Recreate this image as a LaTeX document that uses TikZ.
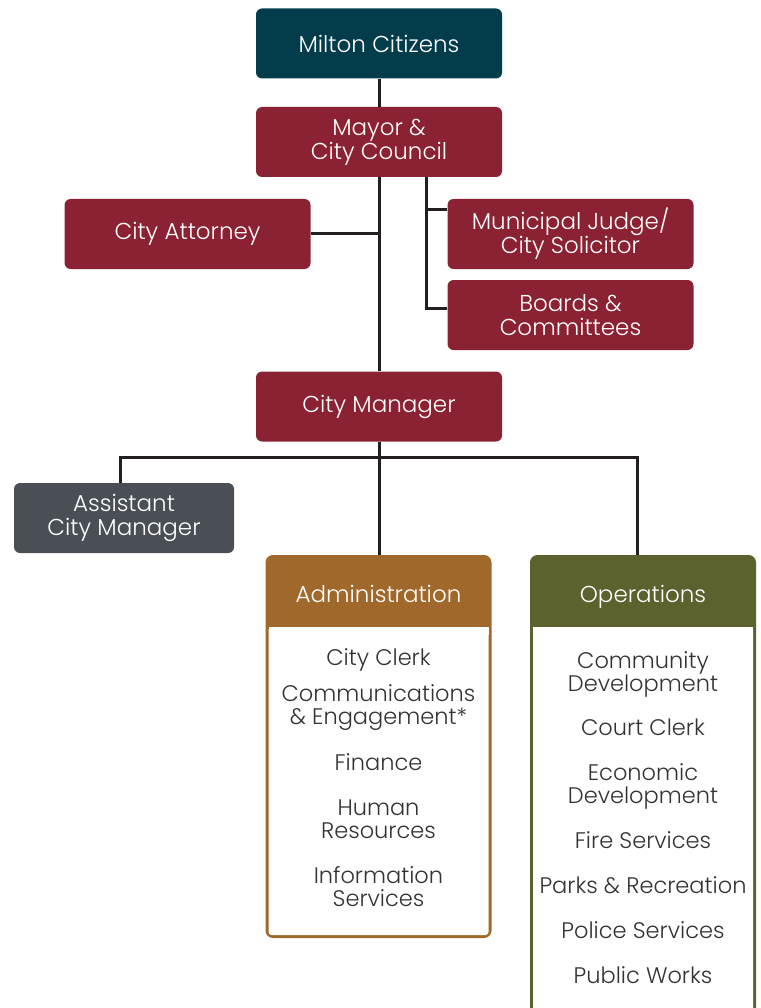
\documentclass[tikz,border=0pt]{standalone}
\usepackage{fontspec}
\setmainfont{Poppins Light}
\usetikzlibrary{positioning}
\definecolor{citteal}{HTML}{033D4C}
\definecolor{councilred}{HTML}{8B2233}
\definecolor{asstgray}{HTML}{4A4F55}
\definecolor{admbrown}{HTML}{A1682C}
\definecolor{opsolive}{HTML}{5C612D}
\definecolor{linkgray}{HTML}{231F20}
\definecolor{listgray}{HTML}{333333}

\begin{document}
\begin{tikzpicture}[
  x=1pt, y=-1pt,
  font=\fontsize{23}{24}\selectfont,
  box/.style   ={rounded corners=6pt, minimum width=246pt, minimum height=70pt,
                 align=center, text=white, inner sep=0pt},
  top/.style   ={box, fill=citteal},
  council/.style={box, fill=councilred},
  asst/.style  ={box, fill=asstgray, minimum width=220pt},
  dept/.style  ={rounded corners=6pt, line width=3pt, minimum width=223pt,
                 inner sep=0pt},
  head/.style  ={text=white, anchor=base},
  item/.style  ={text=listgray, align=center, inner sep=0pt,
                 font=\fontsize{22.5}{23}\selectfont},
  link/.style  ={draw=linkgray, line width=3pt},
]
\useasboundingbox (0,0) rectangle (760,1008);
\clip (0,0) rectangle (760,1008);

\node[top]     (cit)    at (379,43.5) {Milton Citizens};
\node[council] (mayor)  at (379,142)  {Mayor \&\\City Council};
\node[council] (atty)   at (187.5,234) {City Attorney};
\node[council] (judge)  at (570.5,234) {Municipal Judge/\\City Solicitor};
\node[council] (boards) at (570.5,315) {Boards \&\\Committees};
\node[council] (mgr)    at (379,406.5) {City Manager};
\node[asst]    (asst)   at (124,518)  {Assistant\\City Manager};

% departments
\node[dept, draw=admbrown, fill=admbrown, minimum height=380pt] (admin) at (378.5,746.5) {};
\node[dept, draw=opsolive, fill=opsolive, minimum height=480pt] (ops) at (643,796.5) {};
\fill[white, rounded corners=3pt] ([xshift=3pt,yshift=-72pt]admin.north west) rectangle ([xshift=-3pt,yshift=3pt]admin.south east);
\fill[white] ([xshift=3pt,yshift=-72pt]admin.north west) rectangle ([xshift=-3pt,yshift=-80pt]admin.north east);
\fill[white, rounded corners=3pt] ([xshift=3pt,yshift=-72pt]ops.north west) rectangle ([xshift=-3pt,yshift=3pt]ops.south east);
\fill[white] ([xshift=3pt,yshift=-72pt]ops.north west) rectangle ([xshift=-3pt,yshift=-80pt]ops.north east);
\node[head] (adminhead) at (378.5,602) {Administration};
\node[head] (opshead)   at (643,602)   {Operations};

\foreach \y/\txt [count=\i] in {660/{City Clerk}, 708/{Communications\\\& Engagement*},
    762/{Finance}, 819.5/{Human\\Resources}, 886.5/{Information\\Services}}
  \node[item] (adm\i) at (378.5,\y) {\txt};
\foreach \y/\txt [count=\i] in {674/{Community\\Development}, 727/{Court Clerk},
    786.5/{Economic\\Development}, 840/{Fire Services}, 885/{Parks \& Recreation},
    930/{Police Services}, 975/{Public Works}}
  \node[item] (ops\i) at (643,\y) {\txt};

% connectors
\coordinate (split) at (426,177);
\coordinate (bus)   at (379,457);
\draw[link] (cit) -- (mayor);
\draw[link] (mayor.south) -- (mgr.north);
\draw[link] (atty.east) -- (atty.east -| mayor.south);
\draw[link] ([yshift=24pt]judge.west) -| (split);
\draw[link] ([yshift=7pt]boards.west) -| (split);
\draw[link] (mgr.south) -- (mgr.south |- admin.north);
\draw[link] ([xshift=-4pt]asst.north) |- (bus) -| ([xshift=-6pt]ops.north);

\end{tikzpicture}
\end{document}
